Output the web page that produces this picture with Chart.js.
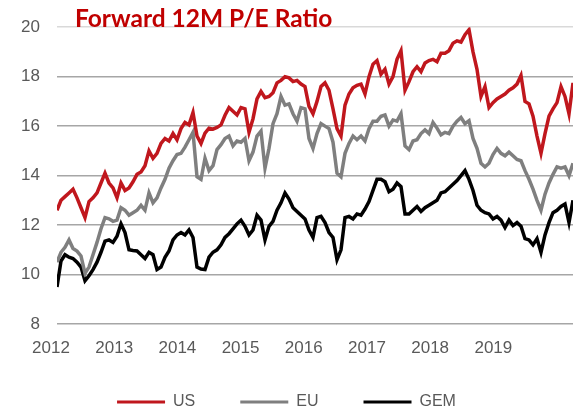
<!DOCTYPE html>
<html><head><meta charset="utf-8">
<script src="https://cdn.jsdelivr.net/npm/chart.js@4.4.1/dist/chart.umd.min.js"></script>
<style>html,body{margin:0;padding:0;background:#fff;overflow:hidden}</style>
</head><body>
<canvas id="c" width="573" height="409"></canvas>
<script>
const chartTitle = 'Forward 12M P/E Ratio';
const seriesNames = ['US', 'EU', 'GEM'];
const yearTicks = [2012, 2013, 2014, 2015, 2016, 2017, 2018, 2019];
const startYear = 2012.095;
const stepYears = 0.0633;

const us = [12.6,13.0,13.15,13.3,13.45,13.1,12.7,12.3,12.95,13.1,13.3,13.7,14.1,13.7,13.5,13.1,13.7,13.4,13.5,13.75,
14.05,14.15,14.4,15.0,14.7,14.9,15.3,15.5,15.4,15.7,15.45,15.9,16.15,16.05,16.55,15.6,15.3,15.72,15.92,15.88,
15.95,16.05,16.44,16.75,16.6,16.45,16.75,16.7,15.75,16.3,17.1,17.4,17.15,17.2,17.35,17.75,17.85,18.0,17.95,17.8,
17.85,17.7,17.6,16.8,16.5,17.0,17.6,17.75,17.45,16.7,15.9,15.6,16.85,17.3,17.55,17.65,17.7,17.3,18.0,18.5,
18.65,18.1,18.3,17.7,18.0,18.7,19.05,17.45,17.8,18.2,18.4,18.2,18.55,18.65,18.7,18.6,18.95,18.95,19.05,19.35,
19.45,19.4,19.7,19.9,19.0,18.3,17.2,17.6,16.75,16.95,17.1,17.2,17.3,17.45,17.55,17.7,18.05,17.0,16.9,16.4,
15.6,14.9,15.7,16.4,16.7,16.95,17.6,17.2,16.5,17.75];

const eu = [10.5,10.9,11.1,11.4,11.05,10.95,10.75,10.05,10.3,10.8,11.3,11.85,12.3,12.25,12.15,12.2,12.7,12.6,12.4,12.5,
12.6,12.8,12.6,13.3,12.9,13.1,13.5,13.85,14.3,14.6,14.85,14.9,15.15,15.45,15.75,13.95,13.85,14.7,14.2,14.4,
15.05,15.25,15.5,15.6,15.2,15.4,15.35,15.5,14.6,14.95,15.6,15.8,14.3,15.1,16.1,16.5,17.2,16.85,16.9,16.5,
16.2,16.75,16.7,15.5,15.1,15.7,16.1,16.0,15.9,15.35,14.1,13.95,14.9,15.3,15.6,15.45,15.6,15.4,15.9,16.2,
16.2,16.4,16.45,16.0,16.25,16.2,16.5,15.2,15.05,15.4,15.45,15.7,15.85,15.7,16.15,15.92,15.65,15.75,15.7,16.0,
16.2,16.35,16.1,16.22,15.5,15.1,14.5,14.35,14.5,14.85,15.1,14.9,14.8,14.95,14.8,14.65,14.6,14.2,13.85,13.45,
13.0,12.6,13.25,13.7,14.05,14.35,14.3,14.35,14.0,14.5];

const gem = [9.5,10.55,10.8,10.7,10.65,10.5,10.3,9.75,9.95,10.2,10.5,10.9,11.35,11.4,11.3,11.55,12.05,11.7,11.0,10.97,
10.95,10.8,10.65,10.9,10.8,10.2,10.3,10.7,10.95,11.4,11.6,11.7,11.6,11.8,11.5,10.3,10.22,10.2,10.7,10.9,
11.0,11.2,11.5,11.65,11.85,12.05,12.2,11.95,11.6,11.8,12.4,12.2,11.4,11.95,12.15,12.6,12.9,13.3,13.05,12.7,
12.55,12.4,12.25,11.8,11.5,12.3,12.35,12.1,11.7,11.5,10.6,11.0,12.3,12.35,12.25,12.45,12.4,12.65,12.95,13.4,
13.85,13.85,13.75,13.35,13.45,13.7,13.55,12.45,12.45,12.6,12.75,12.55,12.7,12.8,12.9,13.0,13.3,13.35,13.5,13.65,
13.8,14.0,14.2,13.85,13.4,12.8,12.6,12.5,12.45,12.25,12.35,12.2,11.9,12.2,11.98,12.1,11.95,11.45,11.4,11.2,
11.45,10.9,11.6,12.1,12.5,12.6,12.75,12.85,12.1,13.0];

const colors = ['#C0171D', '#7F7F7F', '#000000'];
const toPoints = arr => arr.map((v, i) => ({x: startYear + i * stepYears, y: v}));
const allSeries = [us, eu, gem];
const axisFont = "'Liberation Sans', Arial, sans-serif";

const titlePlugin = {
  id: 'titleText',
  afterLayout(chart) {
    if (chart.legend) { chart.legend.top -= 9; chart.legend.bottom -= 9; }
  },
  afterDraw(chart) {
    const ctx = chart.ctx;
    ctx.save();
    ctx.font = "bold 24.5px Lato";
    ctx.fillStyle = '#C00000';
    ctx.textBaseline = 'alphabetic';
    ctx.textAlign = 'left';
    ctx.fillText(chartTitle, 75, 27);
    ctx.restore();
  }
};

new Chart(document.getElementById('c'), {
  type: 'line',
  data: {
    datasets: allSeries.map((s, k) => ({
      label: seriesNames[k],
      data: toPoints(s),
      borderColor: colors[k],
      backgroundColor: colors[k],
      borderWidth: 3.5,
      pointRadius: 0,
      tension: 0,
      fill: false
    }))
  },
  options: {
    responsive: false,
    animation: false,
    devicePixelRatio: 1,
    layout: {padding: {top: 19, right: 0, left: 0, bottom: -20}},
    plugins: {
      tooltip: {enabled: false},
      legend: {
        position: 'bottom',
        labels: {
          boxWidth: 48,
          boxHeight: 3,
          padding: 45,
          color: '#595959',
          font: {family: axisFont, size: 16},
          generateLabels(chart) {
            const items = Chart.defaults.plugins.legend.labels.generateLabels(chart);
            items.forEach(it => { it.lineWidth = 0; it.fillStyle = it.strokeStyle; });
            return items;
          }
        }
      }
    },
    scales: {
      x: {
        type: 'linear',
        min: startYear,
        max: startYear + (us.length - 1) * stepYears,
        grid: {display: false, drawTicks: false},
        border: {display: false},
        afterBuildTicks(scale) { scale.ticks = yearTicks.map(v => ({value: v})); },
        afterFit(scale) { scale.height = 34; },
        ticks: {
          autoSkip: false,
          maxRotation: 0,
          padding: 14,
          color: '#595959',
          font: {family: axisFont, size: 17},
          callback: v => String(v)
        }
      },
      y: {
        min: 8,
        max: 20,
        grid: {
          drawTicks: false,
          lineWidth: 1.5,
          color: c => (c.tick && c.tick.value === 20) ? '#d9d9d9' : '#a6a6a6'
        },
        border: {display: false},
        afterFit(scale) { scale.width = 57; },
        ticks: {
          stepSize: 2,
          padding: 17,
          color: '#595959',
          font: {family: axisFont, size: 17}
        }
      }
    }
  },
  plugins: [titlePlugin]
});
</script>
</body></html>
